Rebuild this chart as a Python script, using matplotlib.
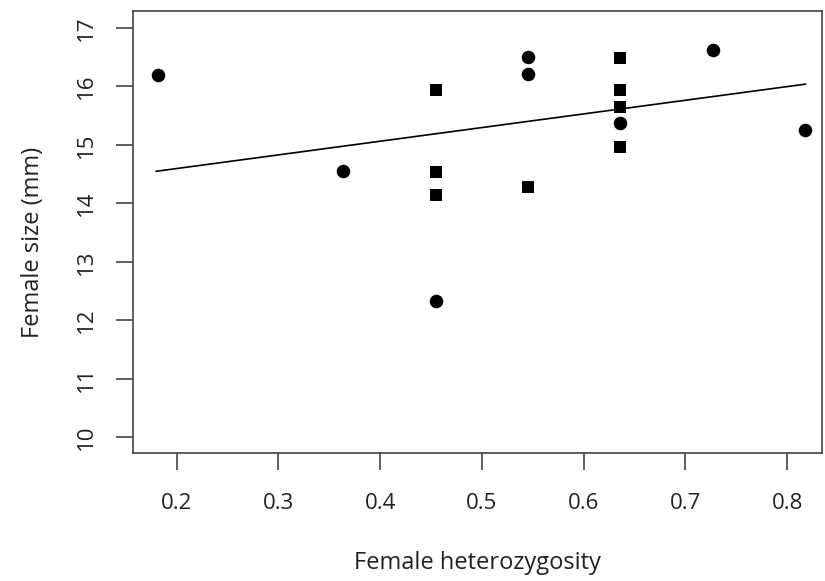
import matplotlib
matplotlib.use("Agg")
import matplotlib.pyplot as plt

plt.rcParams["font.family"] = ["Open Sans", "DejaVu Sans"]

# heterozygosity (x) and size (mm, y) for the two marker groups
circle_x = [0.182, 0.364, 0.455, 0.545, 0.545, 0.636, 0.727, 0.818]
circle_y = [16.20, 14.55, 12.33, 16.50, 16.21, 15.37, 16.62, 15.25]
square_x = [0.455, 0.455, 0.455, 0.545, 0.636, 0.636, 0.636, 0.636]
square_y = [15.94, 14.53, 14.14, 14.28, 16.49, 15.94, 15.65, 14.96]

# regression line end points
fit_x = [0.180, 0.818]
fit_y = [14.55, 16.04]

x_ticks = [0.2, 0.3, 0.4, 0.5, 0.6, 0.7, 0.8]
x_labels = ["0.2", "0.3", "0.4", "0.5", "0.6", "0.7", "0.8"]
y_ticks = [10, 11, 12, 13, 14, 15, 16, 17]

fig = plt.figure(figsize=(8.25, 5.81), dpi=100)
ax = fig.add_axes([0.161, 0.220, 0.835, 0.761])

ax.scatter(circle_x, circle_y, marker="o", s=95, color="black", linewidths=0, zorder=3)
ax.scatter(square_x, square_y, marker="s", s=80, color="black", linewidths=0, zorder=3)
ax.plot(fit_x, fit_y, color="black", linewidth=1.2, zorder=2)

ax.set_xlim(0.157, 0.834)
ax.set_ylim(9.73, 17.29)

ax.set_xticks(x_ticks)
ax.set_xticklabels(x_labels)
ax.set_yticks(y_ticks)
ax.set_yticklabels([str(v) for v in y_ticks], rotation=90, va="center")

for s in ax.spines.values():
    s.set_color("#444444")
    s.set_linewidth(1.2)

ax.tick_params(axis="x", length=12, width=1.2, color="#444444", pad=17,
               labelsize=16, labelcolor="#222222")
ax.tick_params(axis="y", length=12, width=1.2, color="#444444", pad=14,
               labelsize=16, labelcolor="#222222")

ax.set_xlabel("Female heterozygosity", fontsize=17, color="#222222", labelpad=26)
ax.set_ylabel("Female size (mm)", fontsize=17, color="#222222", labelpad=22, y=0.477)

fig.savefig("out.png", dpi=100)
